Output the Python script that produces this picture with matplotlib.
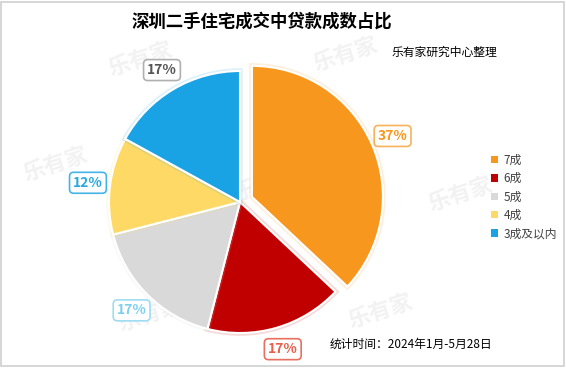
import matplotlib.pyplot as plt
from matplotlib.patches import Rectangle, Patch
import matplotlib.patheffects as pe

plt.rcParams['font.family'] = ['Noto Sans CJK SC', 'DejaVu Sans']

# data
categories = ['7成', '6成', '5成', '4成', '3成及以内']
shares = [37, 17, 17, 12, 17]
colors = ['#f7971e', '#c00000', '#d9d9d9', '#ffd966', '#1aa3e4']
label_colors = ['#f7971e', '#e8604c', '#7fd0ef', '#2aa8e2', '#555555']
box_colors = ['#f9b25c', '#e8705e', '#9fdcf2', '#44b4e8', '#b0b0b0']
explode = [13, 0, 0, 0, 0]   # pie() takes explode in data units here (pixels)

W, H = 566, 376
fig = plt.figure(figsize=(W / 100, H / 100), dpi=100)
ax = fig.add_axes([0, 0, 1, 1])

cx, cy, R = 240, H - 202, 131
wedges, texts, autotexts = ax.pie(
    shares, colors=colors, explode=explode, startangle=90, counterclock=False,
    center=(cx, cy), radius=R, autopct='%d%%', pctdistance=1.17,
    wedgeprops=dict(edgecolor='white', linewidth=1.5),
    textprops=dict(fontsize=10, fontweight='bold'))
# pie() resets the limits, so set them afterwards
ax.set_xlim(0, W)
ax.set_ylim(0, H)
ax.set_aspect('equal')
ax.axis('off')

for w, c in zip(wedges, colors):
    w.set_path_effects([pe.SimpleLineShadow(offset=(0, 0), shadow_color=c, alpha=0.15, linewidth=4),
                        pe.Normal()])

for t, tc, bc in zip(autotexts, label_colors, box_colors):
    t.set_color(tc)
    t.set_bbox(dict(boxstyle='round,pad=0.25,rounding_size=0.3', fc='white', ec=bc, lw=1.2))

# frame
ax.add_patch(Rectangle((1, H - 366), W - 3, 364, fill=False, ec='#d0d0d0', lw=1.2))

# faint watermarks
for x, y in [(140, 60), (345, 55), (55, 165), (265, 185), (460, 195), (150, 315), (380, 312)]:
    ax.text(x, H - y, '乐有家', fontsize=16, fontweight='bold', color='#f2f2f2',
            rotation=18, ha='center', va='center', zorder=0)

handles = [Patch(facecolor=c, edgecolor='none') for c in colors]
ax.legend(handles, categories, loc='center left', bbox_to_anchor=(480 / W, 1 - 197 / H),
          bbox_transform=fig.transFigure, frameon=False, fontsize=8.5,
          handlelength=0.6, handleheight=0.6, handletextpad=0.5, labelspacing=0.45,
          labelcolor='#404040')

fig.text(262 / W, 1 - 22 / H, '深圳二手住宅成交中贷款成数占比', fontsize=12.5, fontweight='bold',
         ha='center', va='center', color='black')
fig.text(497 / W, 1 - 52 / H, '乐有家研究中心整理', fontsize=8.5, ha='right', va='center',
         color='black')
fig.text(330 / W, 1 - 344 / H, '统计时间：2024年1月-5月28日', fontsize=8.5, ha='left',
         va='center', color='black')

fig.savefig('out.png', dpi=100)
